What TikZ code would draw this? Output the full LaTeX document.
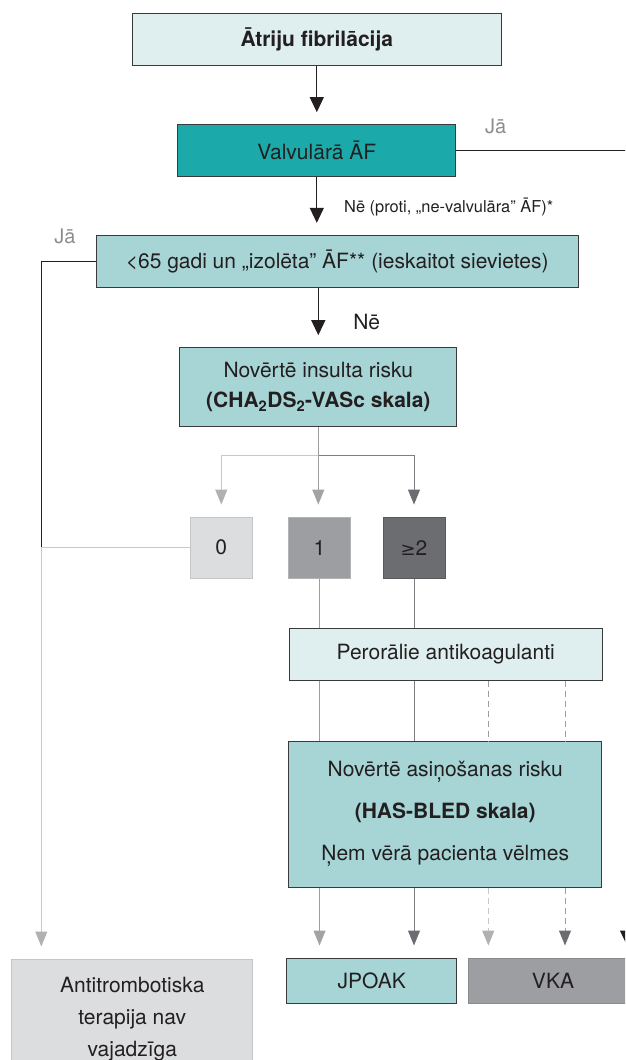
\documentclass[tikz,border=0pt]{standalone}
\usepackage{fontspec}
\setmainfont{TeX Gyre Heros}
\newfontfamily\symfont{DejaVu Sans}
\usetikzlibrary{arrows.meta,calc}
\definecolor{txt}{HTML}{231F20}
\definecolor{edge}{HTML}{3A3A3C}
\definecolor{pale}{HTML}{DFEEEE}
\definecolor{tealA}{HTML}{1BA9AA}
\definecolor{mint}{HTML}{A7D4D5}
\definecolor{gZero}{HTML}{DCDDDF}
\definecolor{gZeroE}{HTML}{C4C5C7}
\definecolor{gOne}{HTML}{9D9EA1}
\definecolor{gOneE}{HTML}{B2B3B5}
\definecolor{gTwo}{HTML}{6C6D70}
\definecolor{gTwoE}{HTML}{58595B}
\definecolor{vkaE}{HTML}{8A8B8E}
\definecolor{labc}{HTML}{8A8C8E}
\definecolor{lnL}{HTML}{C8C9CB}
\definecolor{lnM}{HTML}{9D9EA1}
\definecolor{lnD}{HTML}{7D7E81}
\definecolor{tipL}{HTML}{B0B1B3}
\definecolor{tipM}{HTML}{A2A3A5}
\definecolor{tipD}{HTML}{6C6D70}
\newcommand\mainsz{\fontsize{21}{25}\selectfont}
\tikzset{
  box/.style={draw=edge, line width=1pt, inner sep=0pt, align=center, text=txt, font=\mainsz},
  lbl/.style={inner sep=0pt, text=labc, font=\fontsize{20}{24}\selectfont},
  blk/.style={draw=txt, line width=1pt, -{Triangle[length=15pt,width=14pt]}, shorten >=12pt},
  lineL/.style={draw=lnL, line width=1pt},
  lineM/.style={draw=lnM, line width=1pt},
  lineD/.style={draw=lnD, line width=1pt},
  arrL/.style={draw=lnL, line width=1pt, -{Triangle[length=15pt,width=12pt,color=tipL]}, shorten >=12pt},
  arrM/.style={draw=lnM, line width=1pt, -{Triangle[length=15pt,width=12pt,color=tipM]}, shorten >=12pt},
  arrD/.style={draw=lnD, line width=1pt, -{Triangle[length=15pt,width=12pt,color=tipD]}, shorten >=12pt},
  dashy/.style={dash pattern=on 6pt off 4pt},
}
\begin{document}
\begin{tikzpicture}[x=1pt,y=-1pt]
\path[use as bounding box] (0,0) rectangle (625,1060);
\clip (0,0) rectangle (625,1060);

% nodes
\node[box, fill=pale, minimum width=369pt, minimum height=51.7pt, font=\mainsz\bfseries] (atr) at (316.8,39.8) {Ātriju fibrilācija};
\node[box, fill=tealA, minimum width=277.7pt, minimum height=51.6pt] (valv) at (316.8,150.5) {Valvulārā ĀF};
\node[box, fill=mint, minimum width=481.7pt, minimum height=51.7pt] (lt) at (337.2,261.2) {<65 gadi un „izolēta” ĀF** (ieskaitot sievietes)};
\node[box, fill=mint, minimum width=277.3pt, minimum height=79pt, font=\fontsize{21}{30}\selectfont] (ins) at (318.3,387.2) {Novērtē insulta risku\\\textbf{(CHA\textsubscript{2}DS\textsubscript{2}-VASc skala)}};
\node[box, fill=gZero, draw=gZeroE, minimum width=62pt, minimum height=61.3pt] (s0) at (221.3,547.7) {0};
\node[box, fill=gOne, draw=gOneE, minimum width=62pt, minimum height=61.3pt] (s1) at (319.5,547.7) {1};
\node[box, fill=gTwo, draw=gTwoE, minimum width=62pt, minimum height=61.3pt] (s2) at (414,547.7) {{\symfont\fontsize{18}{20}\selectfont ≥}2};
\node[box, fill=pale, minimum width=313.3pt, minimum height=52pt] (per) at (445.7,654) {Perorālie antikoagulanti};
\node[box, fill=mint, minimum width=313pt, minimum height=146.3pt, font=\fontsize{21}{42}\selectfont] (asin) at (445.2,814.2) {Novērtē asiņošanas risku\\\textbf{(HAS-BLED skala)}\\Ņem vērā pacienta vēlmes};
\node[box, fill=mint, minimum width=170pt, minimum height=45pt] (jp) at (371.7,980.5) {JPOAK};
\node[box, fill=gOne, draw=vkaE, minimum width=170pt, minimum height=45pt] (vka) at (553,980.5) {VKA};
\node[box, fill=gZero, draw=gZeroE, minimum width=240.7pt, minimum height=120pt, font=\fontsize{21}{32}\selectfont] (anti) at (132.3,1019) {Antitrombotiska\\terapija nav\\vajadzīga};

% labels
\node[lbl] (jaR) at (495.7,126) {Jā};
\node[lbl] (jaL) at (65,236) {Jā};
\node[inner sep=0pt, anchor=west, text=txt, font=\fontsize{16.4}{20}\selectfont] (nelbl) at (344,206.7) {Nē (proti, „ne-valvulāra” ĀF)*};
\node[inner sep=0pt, text=txt, font=\mainsz] (ne) at (366.7,321.7) {Nē};

% helper coordinates
\coordinate (rx) at (627,0);
\coordinate (lx) at (41.3,0);
\coordinate (br) at (318.3,455.3);
\coordinate (d1) at (488.3,0);
\coordinate (d2) at (565,0);

% black connectors
\draw[blk] (atr.south) -- (valv.north);
\draw[blk] (valv.south) -- (valv.south |- lt.north);
\draw[blk] (ins.north |- lt.south) -- (ins.north);
\draw[blk] (valv.east) -| (rx |- vka.north);
\draw[draw=txt, line width=1pt] (lt.west) -- (lt.west -| lx) -- (lx |- s0.west);

% score branches
\draw[arrL] (br) -| (s0.north);
\draw[arrD] (br) -| (s2.north);
\draw[arrM] (ins.south) -- (ins.south |- s1.north);
\draw[arrL] (s0.west) -- (lx |- s0.west) -- (lx |- anti.north);

% to oral anticoagulants
\draw[lineM] (s1.south) -- (s1.south |- per.north);
\draw[lineD] (s2.south) -- (s2.south |- per.north);
\draw[lineM] (s1.south |- per.south) -- (s1.south |- asin.north);
\draw[lineD] (s2.south |- per.south) -- (s2.south |- asin.north);
\draw[lineM, dashy] (d1 |- per.south) -- (d1 |- asin.north);
\draw[lineM, dashy] (d2 |- per.south) -- (d2 |- asin.north);

% to treatments
\draw[arrM] (s1.south |- asin.south) -- (s1.south |- jp.north);
\draw[arrD] (s2.south |- asin.south) -- (s2.south |- jp.north);
\draw[arrL, dashy] (d1 |- asin.south) -- (d1 |- vka.north);
\draw[arrD, draw=lnM, dashy] (d2 |- asin.south) -- (d2 |- vka.north);
\end{tikzpicture}
\end{document}
